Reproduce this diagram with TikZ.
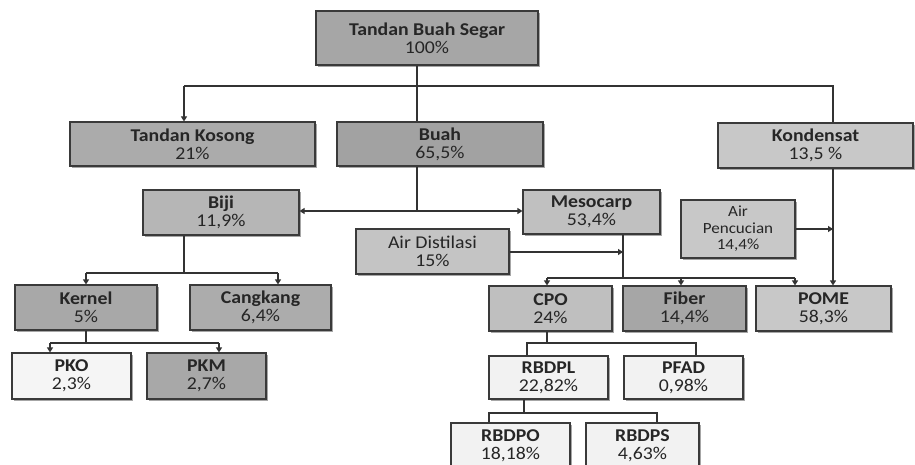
\documentclass[tikz,border=0pt]{standalone}
\usepackage{fontspec}
\setmainfont[FakeStretch=1.1]{Carlito}
\usetikzlibrary{arrows.meta,shadows}
\definecolor{boxline}{HTML}{3A3A3A}
\definecolor{cTBS}{HTML}{A6A6A6}
\definecolor{cTK}{HTML}{ABABAB}
\definecolor{cBuah}{HTML}{A2A2A2}
\definecolor{cKond}{HTML}{C8C8C8}
\definecolor{cBiji}{HTML}{B6B6B6}
\definecolor{cMeso}{HTML}{C0C0C0}
\definecolor{cAirP}{HTML}{C8C8C8}
\definecolor{cAirD}{HTML}{C4C4C4}
\definecolor{cKern}{HTML}{A8A8A8}
\definecolor{cCang}{HTML}{ACACAC}
\definecolor{cPKO}{HTML}{F5F5F5}
\definecolor{cPKM}{HTML}{A8A8A8}
\definecolor{cCPO}{HTML}{BFBFBF}
\definecolor{cFib}{HTML}{A6A6A6}
\definecolor{cPOME}{HTML}{C8C8C8}
\definecolor{cRef}{HTML}{F2F2F2}
\begin{document}
\begin{tikzpicture}[x=1pt,y=-1pt,
  box/.style={draw=boxline, line width=1.1pt, align=center, inner sep=0pt,
    font=\fontsize{18}{17.7}\selectfont, text=black!85,
    drop shadow={shadow xshift=1.6pt, shadow yshift=-1.6pt, fill=black, opacity=0.35}},
  con/.style={line width=1.1pt, draw=black!80},
  arr/.style={con, -{Triangle[length=5pt,width=6pt]}}]
\useasboundingbox[fill=white] (0,0) rectangle (915,465);

% boxes
\node[box, fill=cTBS,  minimum width=222pt, minimum height=54pt] (tbs)  at (427,38)    {\textbf{Tandan Buah Segar}\\100\%};
\node[box, fill=cTK,   minimum width=245pt, minimum height=44pt] (tk)   at (192.5,144) {\textbf{Tandan Kosong}\\21\%};
\node[box, fill=cBuah, minimum width=206pt, minimum height=44pt] (buah) at (440,144)   {\textbf{Buah}\\65,5\%};
\node[box, fill=cKond, minimum width=195pt, minimum height=45pt] (kond) at (815.5,145.5) {\textbf{Kondensat}\\13,5 \%};
\node[box, fill=cBiji, minimum width=156pt, minimum height=45pt] (biji) at (221,212.5) {\textbf{Biji}\\11,9\%};
\node[box, fill=cMeso, minimum width=137pt, minimum height=44pt] (meso) at (591.5,212) {\textbf{Mesocarp}\\53,4\%};
\node[box, fill=cAirP, minimum width=114pt, minimum height=58pt,
      font=\fontsize{15.5}{16.5}\selectfont] (airp) at (738,229) {Air\\Pencucian\\14,4\%};
\node[box, fill=cAirD, minimum width=153pt, minimum height=45pt] (aird) at (432.5,251.5) {Air Distilasi\\15\%};
\node[box, fill=cKern, minimum width=142pt, minimum height=45pt] (kern) at (86,307.5)  {\textbf{Kernel}\\5\%};
\node[box, fill=cCang, minimum width=141pt, minimum height=45pt] (cang) at (260.5,307.5) {\textbf{Cangkang}\\6,4\%};
\node[box, fill=cPKO,  minimum width=119pt, minimum height=46pt] (pko)  at (71.5,376)  {\textbf{PKO}\\2,3\%};
\node[box, fill=cPKM,  minimum width=119pt, minimum height=46pt] (pkm)  at (206.5,376) {\textbf{PKM}\\2,7\%};
\node[box, fill=cCPO,  minimum width=123pt, minimum height=45pt] (cpo)  at (550.5,308.5) {\textbf{CPO}\\24\%};
\node[box, fill=cFib,  minimum width=123pt, minimum height=45pt] (fib)  at (684.5,308.5) {\textbf{Fiber}\\14,4\%};
\node[box, fill=cPOME, minimum width=135pt, minimum height=45pt] (pome) at (823.5,308.5) {\textbf{POME}\\58,3\%};
\node[box, fill=cRef,  minimum width=119pt, minimum height=43pt] (rbdpl) at (548.5,377.5) {\textbf{RBDPL}\\22,82\%};
\node[box, fill=cRef,  minimum width=119pt, minimum height=43pt] (pfad)  at (683.5,377.5) {\textbf{PFAD}\\0,98\%};
\node[box, fill=cRef,  minimum width=119pt, minimum height=45pt] (rbdpo) at (510.5,445.5) {\textbf{RBDPO}\\18,18\%};
\node[box, fill=cRef,  minimum width=113pt, minimum height=45pt] (rbdps) at (642.5,445.5) {\textbf{RBDPS}\\4,63\%};

% junctions
\coordinate (j1)  at (417,86);
\coordinate (jtk) at (184,86);
\coordinate (jk)  at (833,86);
\coordinate (j2)  at (417,211);
\coordinate (jp)  at (833,229);
\coordinate (jd)  at (623,252);
\coordinate (jm)  at (623,278);
\coordinate (dL)  at (547,278);
\coordinate (dF)  at (681,278);
\coordinate (dR)  at (795,278);
\coordinate (cj)  at (547,343);
\coordinate (cL)  at (527,343);
\coordinate (cR)  at (696,343);
\coordinate (rj)  at (524,413);
\coordinate (rL)  at (489,413);
\coordinate (rR)  at (657,413);
\coordinate (bj)  at (184,273);
\coordinate (bL)  at (86,273);
\coordinate (bR)  at (278,273);
\coordinate (kj)  at (86,343);
\coordinate (kL)  at (50,343);
\coordinate (kR)  at (219,343);

% connectors
\draw[con] (tbs.south -| j1) -- (buah.north -| j1);
\draw[con] (jtk) -- (jk) -- (kond.north -| jk);
\draw[arr] (jtk) -- (tk.north -| jtk);
\draw[arr] (kond.south -| jk) -- (pome.north -| jk);
\draw[con] (buah.south -| j2) -- (j2);
\draw[arr] (j2) -- (biji.east |- j2);
\draw[arr] (j2) -- (meso.west |- j2);
\draw[arr] (airp.east |- jp) -- (jp);
\draw[con] (meso.south -| jm) -- (jm);
\draw[arr] (aird.east |- jd) -- (jd);
\draw[con] (dL) -- (dR);
\draw[arr] (dL) -- (cpo.north -| dL);
\draw[arr] (dF) -- (fib.north -| dF);
\draw[arr] (dR) -- (pome.north -| dR);
\draw[con] (cpo.south -| cj) -- (cj);
\draw[con] (rbdpl.north -| cL) -- (cL) -- (cR) -- (pfad.north -| cR);
\draw[con] (rbdpl.south -| rj) -- (rj);
\draw[con] (rbdpo.north -| rL) -- (rL) -- (rR) -- (rbdps.north -| rR);
\draw[con] (biji.south -| bj) -- (bj);
\draw[con] (bL) -- (bR);
\draw[arr] (bL) -- (kern.north -| bL);
\draw[arr] (bR) -- (cang.north -| bR);
\draw[con] (kern.south -| kj) -- (kj);
\draw[con] (kL) -- (kR);
\draw[arr] (kL) -- (pko.north -| kL);
\draw[arr] (kR) -- (pkm.north -| kR);
\end{tikzpicture}
\end{document}
